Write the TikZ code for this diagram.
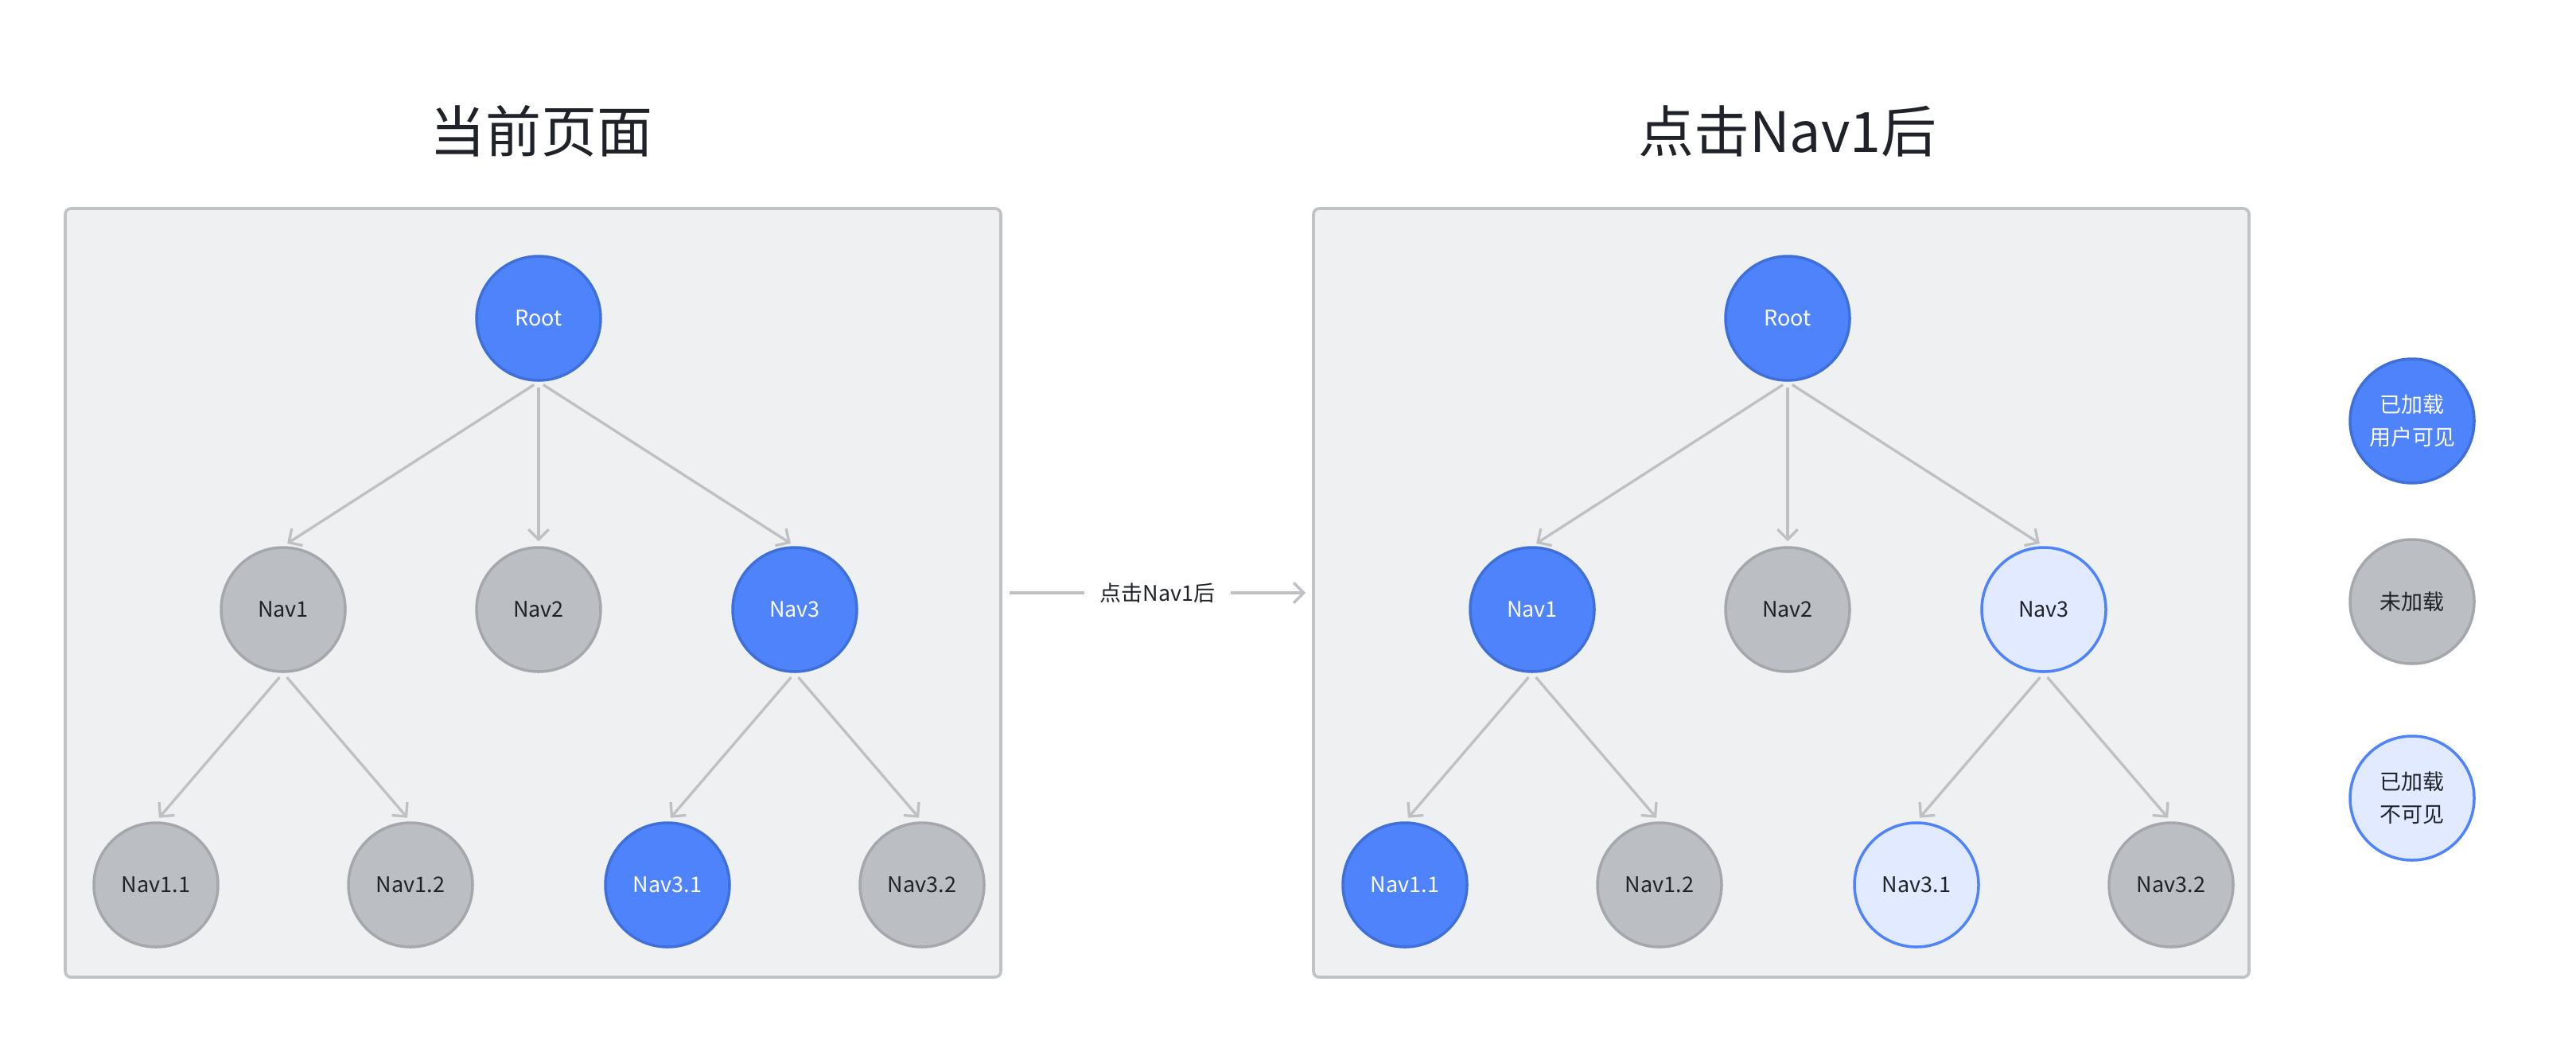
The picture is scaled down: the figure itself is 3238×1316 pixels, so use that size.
\documentclass[tikz,border=0pt]{standalone}
\usepackage{fontspec}
\setmainfont{Noto Sans CJK SC}
\usetikzlibrary{arrows.meta}
\definecolor{blueF}{HTML}{4F83FB}
\definecolor{blueD}{HTML}{3F6FD8}
\definecolor{grayF}{HTML}{BBBEC3}
\definecolor{grayD}{HTML}{A4A7AC}
\definecolor{lightF}{HTML}{E1EAFE}
\definecolor{lightD}{HTML}{4F83FB}
\definecolor{panelF}{HTML}{EFF0F2}
\definecolor{panelD}{HTML}{C0C2C6}
\definecolor{edgeC}{HTML}{BEC0C4}
\definecolor{txt}{HTML}{1F2329}
\tikzset{
  circ/.style={circle, minimum size=46.8pt, inner sep=0pt, line width=1.05pt,
    font=\fontsize{8.1pt}{12.3pt}\selectfont, align=center},
  nblue/.style={circ, fill=blueF, draw=blueD, text=white},
  ngray/.style={circ, fill=grayF, draw=grayD, text=txt},
  nlight/.style={circ, fill=lightF, draw=lightD, text=txt},
  panel/.style={draw=panelD, fill=panelF, line width=1.1pt, rounded corners=2.2pt,
    minimum width=352.8pt, minimum height=289.8pt, inner sep=0pt},
  edge/.style={draw=edgeC, line width=1pt, -{Straight Barb[length=3.8pt,width=7.6pt]},
    shorten <=2.1pt, shorten >=1.8pt},
  plain/.style={draw=edgeC, line width=1pt},
  ttl/.style={font=\fontsize{21pt}{25pt}\selectfont, text=txt, inner sep=0pt},
  lbl/.style={font=\fontsize{8.1pt}{12.3pt}\selectfont, text=txt, inner sep=0pt},
}
\begin{document}
\begin{tikzpicture}[x=0.3pt,y=-0.3pt]
\useasboundingbox[fill=white] (0,0) rectangle (3238,1316);

% titles
\node[ttl] (t1) at (680,165) {当前页面};
\node[ttl] (t2) at (2247,165) {点击Nav1后};

% panels
\node[panel] (lp) at (670,745) {};
\node[panel] (rp) at (2239,745) {};

% left tree
\node[nblue] (lroot) at (677,400) {Root};
\node[ngray] (ln1) at (356,766) {Nav1};
\node[ngray] (ln2) at (677,766) {Nav2};
\node[nblue] (ln3) at (999,766) {Nav3};
\node[ngray] (ln11) at (196,1112) {Nav1.1};
\node[ngray] (ln12) at (516,1112) {Nav1.2};
\node[nblue] (ln31) at (839,1112) {Nav3.1};
\node[ngray] (ln32) at (1159,1112) {Nav3.2};
\draw[edge] (lroot.south) -- (ln1.north);
\draw[edge] (lroot.south) -- (ln2.north);
\draw[edge] (lroot.south) -- (ln3.north);
\draw[edge] (ln1.south) -- (ln11.north);
\draw[edge] (ln1.south) -- (ln12.north);
\draw[edge] (ln3.south) -- (ln31.north);
\draw[edge] (ln3.south) -- (ln32.north);

% right tree
\node[nblue] (rroot) at (2247,400) {Root};
\node[nblue] (rn1) at (1926,766) {Nav1};
\node[ngray] (rn2) at (2247,766) {Nav2};
\node[nlight] (rn3) at (2569,766) {Nav3};
\node[nblue] (rn11) at (1766,1112) {Nav1.1};
\node[ngray] (rn12) at (2086,1112) {Nav1.2};
\node[nlight] (rn31) at (2409,1112) {Nav3.1};
\node[ngray] (rn32) at (2729,1112) {Nav3.2};
\draw[edge] (rroot.south) -- (rn1.north);
\draw[edge] (rroot.south) -- (rn2.north);
\draw[edge] (rroot.south) -- (rn3.north);
\draw[edge] (rn1.south) -- (rn11.north);
\draw[edge] (rn1.south) -- (rn12.north);
\draw[edge] (rn3.south) -- (rn31.north);
\draw[edge] (rn3.south) -- (rn32.north);

% transition arrow
\node[lbl] (mid) at (1455,745) {点击Nav1后};
\draw[plain, shorten <=2.7pt, shorten >=5.7pt] (lp.east) -- (mid.west);
\draw[edge, shorten <=5.7pt, shorten >=2.4pt] (mid.east) -- (rp.west);

% legend
\node[nblue] (lg1) at (3032,529) {已加载\\用户可见};
\node[ngray] (lg2) at (3032,756) {未加载};
\node[nlight] (lg3) at (3032,1003) {已加载\\不可见};
\end{tikzpicture}
\end{document}
